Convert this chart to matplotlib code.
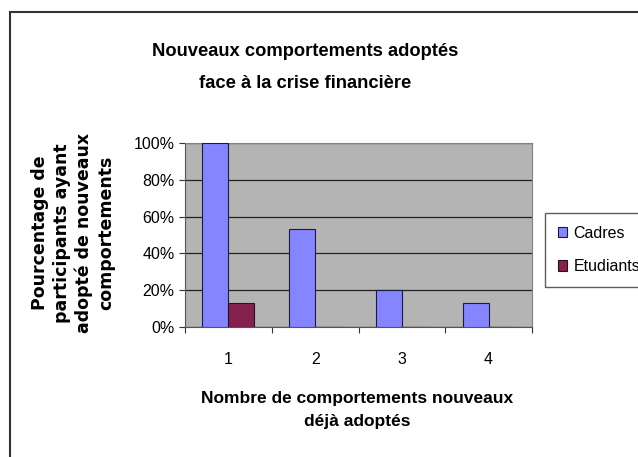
import matplotlib.pyplot as plt
import numpy as np
from matplotlib.patches import Rectangle

plt.rcParams['font.family'] = ['Liberation Sans', 'DejaVu Sans']

categories = ['1', '2', '3', '4']
cadres = [100, 53, 20, 13]
etudiants = [13, 0, 0, 0]
yticks = [0, 20, 40, 60, 80, 100]

fig = plt.figure(figsize=(6.38, 4.57), dpi=100)
# outer chart frame
fig.patches.append(Rectangle((10/638, -0.1), 1.0, 1 - 12/457 + 0.1, transform=fig.transFigure,
                             fill=False, edgecolor='#333333', linewidth=1.5))

ax = fig.add_axes([185/638, 1 - 327/457, (532 - 185)/638, (327 - 143)/457])
ax.set_facecolor('#b4b4b4')
x = np.arange(len(categories))
w = 0.3
ax.bar(x - w/2, cadres, w, color='#8585ff', edgecolor='#1a1a40', linewidth=0.8, label='Cadres', zorder=3)
ax.bar(x + w/2, etudiants, w, color='#85204f', edgecolor='#1a1a1a', linewidth=0.8, label='Etudiants', zorder=3)
ax.set_xlim(-0.5, 3.5)
ax.set_ylim(0, 100)
ax.set_yticks(yticks)
ax.set_yticklabels([f'{v}%' for v in yticks], fontsize=11.5)
ax.yaxis.grid(True, color='#222222', linewidth=0.9, zorder=1)
ax.set_xticks(np.arange(-0.5, 4, 1))
ax.set_xticklabels([])
ax.set_xticks(x, minor=True)
ax.set_xticklabels(categories, minor=True, fontsize=11.5)
ax.tick_params(axis='x', which='minor', length=0, pad=18)
ax.tick_params(axis='x', which='major', length=4, color='#333333')
ax.tick_params(axis='y', length=4, color='#333333', pad=3.5)
for s in ['top', 'right']:
    ax.spines[s].set_color('#808080')
for s in ['left', 'bottom']:
    ax.spines[s].set_color('#555555')

fig.text(305/638, 1 - 52/457, 'Nouveaux comportements adoptés', ha='center', va='center',
         fontsize=13.2, fontweight='bold')
fig.text(305/638, 1 - 84/457, 'face à la crise financière', ha='center', va='center',
         fontsize=13.2, fontweight='bold')
fig.text(73/638, 1 - 233/457, 'Pourcentage de\nparticipants ayant\nadopté de nouveaux\ncomportements',
         ha='center', va='center', rotation=90, fontsize=12.5, fontweight='bold', linespacing=1.28,
         family='DejaVu Sans')
fig.text(357/638, 1 - 410/457, 'Nombre de comportements nouveaux\ndéjà adoptés', ha='center', va='center',
         fontsize=12.5, fontweight='bold', linespacing=1.6)

leg = fig.legend(loc='upper left', bbox_to_anchor=(545/638, 1 - 213/457), fontsize=11.5,
                 frameon=True, fancybox=False, edgecolor='#333333', handlelength=0.6,
                 handleheight=0.6, handletextpad=0.4, labelspacing=1.15, borderpad=0.8,
                 borderaxespad=0)
leg.get_frame().set_linewidth(1.0)

fig.savefig('out.png', dpi=100)
